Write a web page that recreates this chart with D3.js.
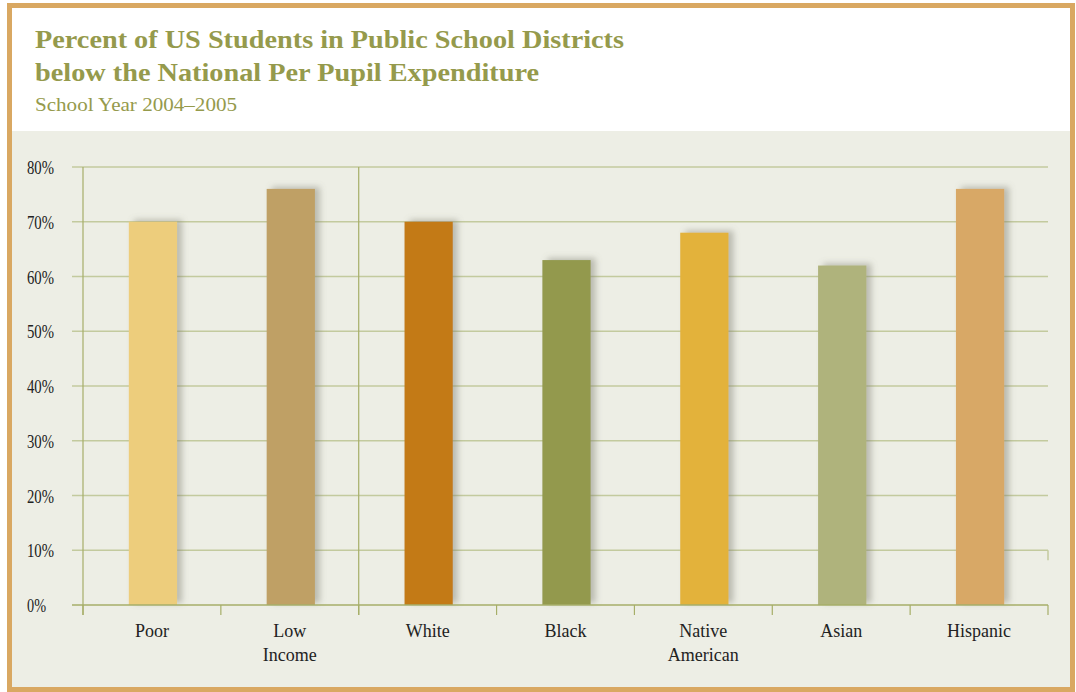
<!DOCTYPE html>
<html><head><meta charset="utf-8">
<script src="https://cdn.jsdelivr.net/npm/d3@7"></script>
<style>body{margin:0;background:#fff}svg{display:block}</style>
</head><body>
<svg id="c" width="1076" height="692"></svg>
<script>
const categories = [["Poor"],["Low","Income"],["White"],["Black"],["Native","American"],["Asian"],["Hispanic"]];
const values = [70, 76, 70, 63, 68, 62, 76];
const colors = ["#edcd7c","#bfa065","#c37a17","#93994e","#e3b23b","#afb37b","#d8a866"];
const yTicks = [0,10,20,30,40,50,60,70,80];
const titleLines = ["Percent of US Students in Public School Districts","below the National Per Pupil Expenditure"];
const subtitle = "School Year 2004\u20132005";

const svg = d3.select("#c");
const defs = svg.append("defs");
const f = defs.append("filter").attr("id","sh").attr("x","-30%").attr("y","-10%").attr("width","160%").attr("height","120%");
f.append("feDropShadow").attr("dx",5).attr("dy",-2).attr("stdDeviation",3).attr("flood-color","#7a7a70").attr("flood-opacity",0.45);

// frame
svg.append("rect").attr("x",0).attr("y",0).attr("width",1076).attr("height",692).attr("fill","#fff");
svg.append("rect").attr("x",12).attr("y",131).attr("width",1058).attr("height",557).attr("fill","#edeee5");
svg.append("rect").attr("x",9.5).attr("y",5.5).attr("width",1063).attr("height",684).attr("fill","none").attr("stroke","#d9a862").attr("stroke-width",5);

// titles
const titleW = [589, 504];
svg.selectAll("text.t").data(titleLines).join("text").attr("class","t")
  .attr("x",35).attr("y",(d,i)=>48+i*33)
  .attr("font-family","Liberation Serif").attr("font-weight","bold").attr("font-size",26)
  .attr("textLength",(d,i)=>titleW[i]).attr("lengthAdjust","spacingAndGlyphs")
  .attr("fill","#959a4c").text(d=>d);
svg.append("text").attr("x",35).attr("y",111).attr("font-family","Liberation Serif")
  .attr("font-size",19).attr("fill","#959a4c")
  .attr("textLength",202).attr("lengthAdjust","spacingAndGlyphs").text(subtitle);

const x0 = 83, x1 = 1048;
const x = d3.scaleBand().domain(d3.range(categories.length)).range([x0,x1]).paddingInner(0.65).paddingOuter(0.325);
const xb = d3.scaleBand().domain(d3.range(categories.length)).range([x0,x1]);
const y = d3.scaleLinear().domain([0,80]).range([605,167]);

const g = svg.append("g");
// gridlines
g.selectAll("line.grid").data(yTicks.filter(t=>t>0)).join("line").attr("class","grid")
  .attr("x1",72).attr("x2",x1).attr("y1",d=>y(d)).attr("y2",d=>y(d))
  .attr("stroke","#c3ca9e").attr("stroke-width",1.5);
// right tick at 10%
g.append("line").attr("x1",x1).attr("x2",x1).attr("y1",y(10)).attr("y2",y(10)+10).attr("stroke","#c3ca9e").attr("stroke-width",1.5);

// bars
g.selectAll("rect.bar").data(values).join("rect").attr("class","bar")
  .attr("x",(d,i)=>x(i)+1).attr("width",x.bandwidth())
  .attr("y",d=>y(d)).attr("height",d=>y(0)-y(d))
  .attr("fill",(d,i)=>colors[i]).attr("filter","url(#sh)");

// axes
const ax = "#a6ae68";
g.append("line").attr("x1",72).attr("x2",x1).attr("y1",y(0)).attr("y2",y(0)).attr("stroke",ax).attr("stroke-width",1.5);
g.append("line").attr("x1",x0).attr("x2",x0).attr("y1",y(80)).attr("y2",y(0)+10).attr("stroke",ax).attr("stroke-width",1.2);
g.append("line").attr("x1",xb(2)).attr("x2",xb(2)).attr("y1",y(80)).attr("y2",y(0)+10).attr("stroke",ax).attr("stroke-width",1.2);
const tickPos = d3.range(categories.length+1).map(i=> i<categories.length ? xb(i) : x1);
g.selectAll("line.tk").data(tickPos).join("line").attr("class","tk")
  .attr("x1",d=>d).attr("x2",d=>d).attr("y1",y(0)).attr("y2",y(0)+10).attr("stroke",ax).attr("stroke-width",1.2);

// y labels
g.selectAll("text.yl").data(yTicks).join("text").attr("class","yl")
  .attr("x",27).attr("y",d=>y(d)+7)
  .attr("font-family","Liberation Serif").attr("font-size",18).attr("fill","#222")
  .attr("textLength",d=>d===0?19:27).attr("lengthAdjust","spacingAndGlyphs")
  .text(d=>d+"%");

// x labels
const xl = g.selectAll("text.xl").data(categories).join("text").attr("class","xl")
  .attr("x",(d,i)=>xb(i)+xb.bandwidth()/2).attr("y",637)
  .attr("text-anchor","middle").attr("font-family","Liberation Serif").attr("font-size",18).attr("fill","#222");
xl.selectAll("tspan").data(d=>d).join("tspan")
  .attr("x",function(){return this.parentNode.getAttribute("x");})
  .attr("dy",(d,i)=>i===0?0:24).text(d=>d);
</script>
</body></html>
